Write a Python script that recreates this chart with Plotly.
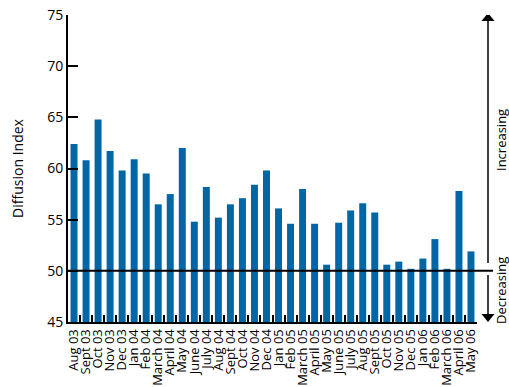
import plotly.graph_objects as go

# Monthly diffusion index, Aug 2003 - May 2006
months = ["Aug 03", "Sept 03", "Oct 03", "Nov 03", "Dec 03",
          "Jan 04", "Feb 04", "March 04", "April 04", "May 04", "June 04",
          "July 04", "Aug 04", "Sept 04", "Oct 04", "Nov 04", "Dec 04",
          "Jan 05", "Feb 05", "March 05", "April 05", "May 05", "June 05",
          "July 05", "Aug 05", "Sept 05", "Oct 05", "Nov 05", "Dec 05",
          "Jan 06", "Feb 06", "March 06", "April 06", "May 06"]
index_values = [62.4, 60.8, 64.8, 61.7, 59.8,
                60.9, 59.5, 56.5, 57.5, 62.0, 54.8,
                58.2, 55.2, 56.5, 57.1, 58.4, 59.8,
                56.1, 54.6, 58.0, 54.6, 50.6, 54.7,
                55.9, 56.6, 55.7, 50.6, 50.9, 50.2,
                51.2, 53.1, 50.2, 57.8, 51.9]

Y_MIN, Y_MAX = 45, 75
NEUTRAL = 50

W, H = 509, 387
L, R, T, B = 68, 32, 15, 65
plot_w = W - L - R
plot_h = H - T - B


def px_x(px):
    """Pixel column -> paper x."""
    return (px - L) / plot_w


def px_y(py):
    """Pixel row -> data y."""
    return Y_MIN + (H - B - py) / plot_h * (Y_MAX - Y_MIN)


font = "Open Sans"
fig = go.Figure()
# bars rise from the bottom of the axis
fig.add_trace(go.Bar(
    x=months, y=[v - Y_MIN for v in index_values], base=Y_MIN, width=0.58,
    marker=dict(color="#0066a6", line=dict(width=0)),
    hovertext=[f"{v}" for v in index_values],
))

ax_x = 488
shapes = [
    # neutral line at 50
    dict(type="line", xref="paper", yref="y", x0=0, x1=px_x(493),
         y0=NEUTRAL, y1=NEUTRAL, line=dict(color="black", width=2)),
    # increasing arrow
    dict(type="line", xref="paper", yref="y", x0=px_x(ax_x), x1=px_x(ax_x),
         y0=px_y(263), y1=px_y(20), line=dict(color="black", width=1.5)),
    dict(type="path", xref="paper", yref="y",
         path=f"M {px_x(ax_x)} {px_y(13)} L {px_x(ax_x - 6.5)} {px_y(21)} "
              f"L {px_x(ax_x + 6.5)} {px_y(21)} Z",
         fillcolor="black", line=dict(width=0)),
    # decreasing arrow
    dict(type="line", xref="paper", yref="y", x0=px_x(ax_x), x1=px_x(ax_x),
         y0=px_y(275), y1=px_y(315), line=dict(color="black", width=1.5)),
    dict(type="path", xref="paper", yref="y",
         path=f"M {px_x(ax_x)} {px_y(322)} L {px_x(ax_x - 6.5)} {px_y(314)} "
              f"L {px_x(ax_x + 6.5)} {px_y(314)} Z",
         fillcolor="black", line=dict(width=0)),
]

annotations = [
    dict(text="Increasing", xref="paper", yref="y", x=px_x(501), y=px_y(140),
         xanchor="center", yanchor="middle",
         showarrow=False, textangle=-90, font=dict(family=font, size=13, color="black")),
    dict(text="Decreasing", xref="paper", yref="y", x=px_x(501), y=px_y(291),
         xanchor="center", yanchor="middle",
         showarrow=False, textangle=-90, font=dict(family=font, size=13, color="black")),
]

fig.update_layout(
    width=W, height=H,
    margin=dict(l=L, r=R, t=T, b=B),
    paper_bgcolor="white", plot_bgcolor="white",
    showlegend=False,
    shapes=shapes, annotations=annotations,
    font=dict(family=font, size=14, color="black"),
)
fig.update_xaxes(
    type="category", tickangle=-90, tickson="boundaries",
    tickmode="array", tickvals=months, ticktext=months,
    ticks="inside", ticklen=7, tickcolor="black", tickwidth=1.5,
    showline=True, linecolor="black", linewidth=2,
    showgrid=False, tickfont=dict(family=font, size=13),
    range=[-0.5, len(months) - 0.5], automargin=False,
)
fig.update_yaxes(
    range=[Y_MIN, Y_MAX], dtick=5, tick0=Y_MIN,
    ticks="inside", ticklen=10, tickcolor="black", tickwidth=2,
    showline=True, linecolor="black", linewidth=2,
    showgrid=False, zeroline=False, automargin=False,
    tickfont=dict(family=font, size=14),
    title=dict(text="Diffusion Index", font=dict(family=font, size=14), standoff=20),
)

fig.write_html("out.html")
